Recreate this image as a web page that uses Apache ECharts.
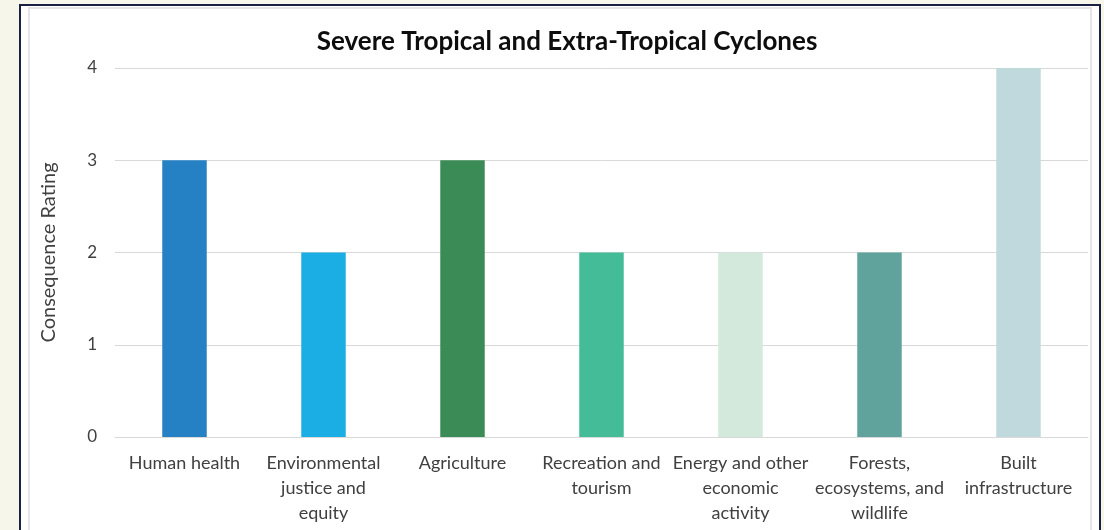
<!DOCTYPE html>
<html>
<head>
<meta charset="utf-8">
<script src="https://cdn.jsdelivr.net/npm/echarts@6/dist/echarts.min.js"></script>
<style>
  html, body { margin: 0; padding: 0; background: #f6f6ea; }
  #chart { width: 1104px; height: 530px; }
</style>
</head>
<body>
<div id="chart"></div>
<script>
// Consequence ratings by sector for severe tropical and extra-tropical cyclones
const categories = [
  'Human health',
  'Environmental\njustice and\nequity',
  'Agriculture',
  'Recreation and\ntourism',
  'Energy and other\neconomic\nactivity',
  'Forests,\necosystems, and\nwildlife',
  'Built\ninfrastructure'
];
const ratings = [3, 2, 3, 2, 2, 2, 4];
const barColors = ['#2580c4', '#1baee4', '#3b8b56', '#44bc98', '#d2e9dc', '#5fa39c', '#bfd9dc'];
const yTicks = [0, 1, 2, 3, 4];

const FONT = 'Lato, "Open Sans", sans-serif';
const chart = echarts.init(document.getElementById('chart'), null, { renderer: 'canvas' });

chart.setOption({
  backgroundColor: 'transparent',
  animation: false,
  graphic: [
    // white card with dark frame
    { type: 'rect', shape: { x: 20, y: 5, width: 1080, height: 540 },
      style: { fill: '#ffffff', stroke: '#1b2142', lineWidth: 2 }, z: -10 },
    // inner light frame
    { type: 'rect', shape: { x: 29, y: 8, width: 1062, height: 540 },
      style: { fill: 'none', stroke: '#e4e4e4', lineWidth: 2 }, z: -9 }
  ],
  title: {
    text: 'Severe Tropical and Extra-Tropical Cyclones',
    left: 562, top: 24, textAlign: 'center',
    textStyle: { fontFamily: FONT, fontWeight: 'bold', fontSize: 26, color: '#0d0d0d' }
  },
  grid: { left: 115, right: 16, top: 68, bottom: 93, containLabel: false },
  xAxis: {
    type: 'category',
    data: categories,
    axisLine: { lineStyle: { color: '#d9d9d9', width: 1 } },
    axisTick: { show: false },
    axisLabel: {
      interval: 0, margin: 14, color: '#404040',
      fontFamily: FONT, fontSize: 18, lineHeight: 25
    }
  },
  yAxis: {
    type: 'value',
    min: yTicks[0], max: yTicks[yTicks.length - 1], interval: 1,
    name: 'Consequence Rating',
    nameLocation: 'middle', nameGap: 56, nameRotate: 90,
    nameTextStyle: { fontFamily: FONT, fontSize: 20, color: '#404040' },
    axisLine: { show: false },
    axisTick: { show: false },
    axisLabel: { margin: 18, color: '#404040', fontFamily: FONT, fontSize: 17 },
    splitLine: { lineStyle: { color: '#d9d9d9', width: 1 } }
  },
  series: [{
    type: 'bar',
    barWidth: '32%',
    data: ratings.map((v, i) => ({ value: v, itemStyle: { color: barColors[i] } }))
  }]
});
</script>
</body>
</html>
